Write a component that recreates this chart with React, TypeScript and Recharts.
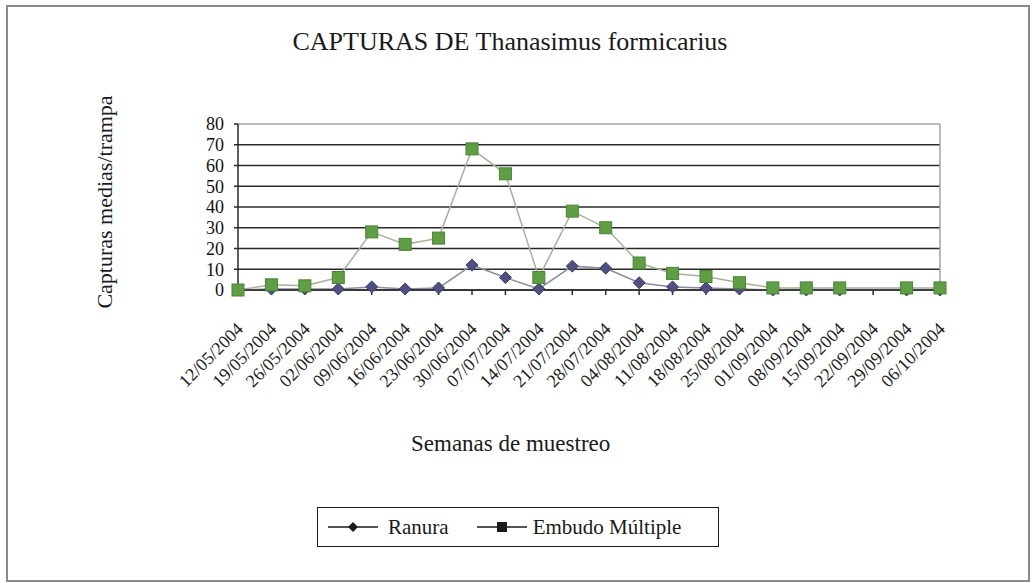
import React from "react";
import {
  LineChart,
  Line,
  XAxis,
  YAxis,
  CartesianGrid,
  ReferenceLine,
} from "recharts";

const semanas = [
  "12/05/2004", "19/05/2004", "26/05/2004", "02/06/2004", "09/06/2004",
  "16/06/2004", "23/06/2004", "30/06/2004", "07/07/2004", "14/07/2004",
  "21/07/2004", "28/07/2004", "04/08/2004", "11/08/2004", "18/08/2004",
  "25/08/2004", "01/09/2004", "08/09/2004", "15/09/2004", "22/09/2004",
  "29/09/2004", "06/10/2004",
];

const ranura = [
  0, 0.5, 0.5, 0.5, 1.5, 0.5, 1, 12, 6, 0.5, 11.5, 10.5, 3.5, 1.5, 1, 0.5,
  0, 0, 0, null, 0, 0,
];

const embudo = [
  0, 2.5, 2, 6, 28, 22, 25, 68, 56, 6, 38, 30, 13, 8, 6.5, 3.5, 1, 1, 1,
  null, 1, 1,
];

const yTicks = [0, 10, 20, 30, 40, 50, 60, 70, 80];

const data = semanas.map((s, i) => ({
  semana: s,
  ranura: ranura[i],
  embudo: embudo[i],
}));

const FONT = "Times New Roman, Liberation Serif, DejaVu Serif, serif";

function DateTick(props: any) {
  const { x, y, payload } = props;
  return (
    <g transform={`translate(${x + 2},${y + 29})`}>
      <text
        x={0}
        y={0}
        dy={6}
        textAnchor="end"
        transform="rotate(-45)"
        fontFamily={FONT}
        fontSize={18}
        fill="#1a1a1a"
      >
        {payload.value}
      </text>
    </g>
  );
}

function SquareDot(props: any) {
  const { cx, cy, index } = props;
  if (cx == null || cy == null || props.value == null) return <g key={`s-${index}`} />;
  return (
    <rect
      key={`s-${index}`}
      x={cx - 6}
      y={cy - 6}
      width={12}
      height={12}
      fill="#5f9e45"
      stroke="#4a8434"
      strokeWidth={1}
    />
  );
}

function DiamondDot(props: any) {
  const { cx, cy, index } = props;
  if (cx == null || cy == null || props.value == null) return <g key={`d-${index}`} />;
  return (
    <path
      key={`d-${index}`}
      d={`M${cx},${cy - 6} L${cx + 6},${cy} L${cx},${cy + 6} L${cx - 6},${cy} Z`}
      fill="#4f4f82"
      stroke="#3e3e6e"
      strokeWidth={1}
    />
  );
}

export default function App() {
  return (
    <div
      style={{
        position: "absolute",
        left: 0,
        top: 0,
        width: 1032,
        height: 583,
        background: "#fff",
        fontFamily: FONT,
      }}
    >
      <div
        style={{
          position: "absolute",
          left: 6,
          top: 5,
          width: 1020,
          height: 573,
          border: "2px solid #8a8a8a",
        }}
      />
      <div
        style={{
          position: "absolute",
          left: 0,
          width: 1020,
          top: 27,
          textAlign: "center",
          fontSize: 26,
          color: "#1a1a1a",
        }}
      >
        CAPTURAS DE Thanasimus formicarius
      </div>
      <div
        style={{
          position: "absolute",
          left: 105,
          top: 202,
          transform: "translate(-50%, -50%) rotate(-90deg)",
          fontSize: 22,
          whiteSpace: "nowrap",
          color: "#1a1a1a",
        }}
      >
        Capturas medias/trampa
      </div>
      <div
        style={{
          position: "absolute",
          left: 411,
          top: 431,
          fontSize: 23,
          color: "#1a1a1a",
        }}
      >
        Semanas de muestreo
      </div>

      <LineChart
        width={1032}
        height={583}
        data={data}
        margin={{ top: 124, left: 198, right: 92, bottom: 143 }}
        style={{ position: "absolute", left: 0, top: 0 }}
      >
        <CartesianGrid vertical={false} stroke="#2a2a2a" strokeWidth={1.5} />
        <ReferenceLine y={80} stroke="#bdbdbd" strokeWidth={2} />
        <ReferenceLine x={semanas[semanas.length - 1]} stroke="#a0a0a0" strokeWidth={1.5} />
        <XAxis
          dataKey="semana"
          interval={0}
          height={150}
          tick={<DateTick />}
          tickSize={5}
          stroke="#2a2a2a"
          strokeWidth={1.5}
        />
        <YAxis
          domain={[0, 80]}
          ticks={yTicks}
          interval={0}
          width={40}
          tickSize={4}
          tickMargin={10}
          stroke="#2a2a2a"
          strokeWidth={1.5}
          tick={{ fontSize: 18, fontFamily: FONT, fill: "#111" }}
        />
        <Line
          dataKey="ranura"
          stroke="#8c8ca0"
          strokeWidth={1.5}
          dot={<DiamondDot />}
          connectNulls
          isAnimationActive={false}
        />
        <Line
          dataKey="embudo"
          stroke="#a8b09c"
          strokeWidth={1.5}
          dot={<SquareDot />}
          connectNulls
          isAnimationActive={false}
        />
      </LineChart>

      <div
        style={{
          position: "absolute",
          left: 317,
          top: 507,
          width: 400,
          height: 38,
          border: "1.5px solid #1a1a1a",
          display: "flex",
          alignItems: "center",
          fontSize: 21,
          color: "#1a1a1a",
        }}
      >
        <svg width={50} height={14} style={{ marginLeft: 10 }}>
          <line x1={0} y1={7} x2={50} y2={7} stroke="#1a1a1a" strokeWidth={1.5} />
          <path d="M25,2 L30,7 L25,12 L20,7 Z" fill="#1a1a1a" />
        </svg>
        <span style={{ marginLeft: 10 }}>Ranura</span>
        <svg width={50} height={14} style={{ marginLeft: 28 }}>
          <line x1={0} y1={7} x2={50} y2={7} stroke="#1a1a1a" strokeWidth={1.5} />
          <rect x={20} y={2} width={10} height={10} fill="#1a1a1a" />
        </svg>
        <span style={{ marginLeft: 6 }}>Embudo Múltiple</span>
      </div>
    </div>
  );
}
